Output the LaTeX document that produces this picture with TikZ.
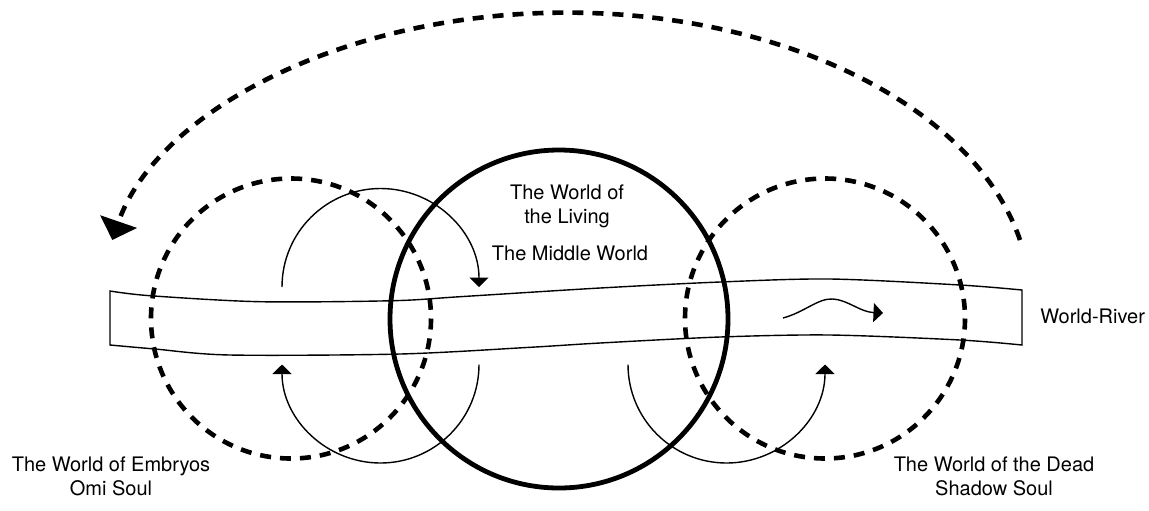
\documentclass[tikz,border=0pt]{standalone}
\usepackage{fontspec}
\setmainfont{TeX Gyre Heros}
\usepackage{tikz}
\usetikzlibrary{arrows.meta}
\tikzset{
  wsoul/.style={line width=2.3pt, dash pattern=on 5.5pt off 4.5pt},
  wliving/.style={line width=2.4pt},
  wriver/.style={line width=0.7pt},
  wloop/.style={-{Triangle[length=4.75pt, width=9.5pt]}, line width=0.7pt},
  wcycle/.style={-{Triangle[length=9.75pt, width=19pt]}, wsoul},
  wlbl/.style={font=\fontsize{10}{11.75}\selectfont, align=center, inner sep=0pt},
}

\begin{document}
\begin{tikzpicture}[x=0.5pt, y=-0.5pt]
    \useasboundingbox (0,0) rectangle (1149,510);
    \coordinate (embryo) at (291,318.5);
    \coordinate (middle) at (559,319);
    \coordinate (dead) at (825,318.5);
    \draw[wriver] plot[smooth] coordinates {(110,291) (150,295.7) (260,301.7) (393,300.7) (460,296.7) (600,288) (720,282) (830,279) (960,285) (1022,290)}
      -- plot[smooth] coordinates {(1022,345) (960,340) (830,335) (720,337) (600,343) (530,347.3) (400,354) (230,355) (155,349) (110,345)} -- cycle;
    \draw[wsoul] (embryo) circle[radius=140];
    \draw[wsoul] (dead) circle[radius=140];
    \draw[wliving] (middle) circle[radius=169];
    \draw[wcycle] (1020,240) arc[start angle=-12, end angle=-168, x radius=464, y radius=287];
    \draw[wloop] (282,287) arc[start angle=180, end angle=360, radius=98.5];
    \draw[wloop] (479,364.5) arc[start angle=0, end angle=180, radius=98.5];
    \draw[wloop] (628,364.5) arc[start angle=180, end angle=0, radius=98.5];
    \draw[wloop] (783,318) .. controls (805,312) and (818,298) .. (833,299) .. controls (848,300) and (860,312) .. (883,313);
    \node[wlbl, anchor=base] (living) at (567,223) {The World of\\the Living};
    \node[wlbl, anchor=base] (middleworld) at (570,260) {The Middle World};
    \node[wlbl, anchor=base] (embryos) at (111,495) {The World of Embryos\\Omi Soul};
    \node[wlbl, anchor=base] (shadow) at (994,495) {The World of the Dead\\Shadow Soul};
    \node[wlbl, anchor=base west] (river) at (1040,323.3) {World-River};
\end{tikzpicture}
\end{document}
